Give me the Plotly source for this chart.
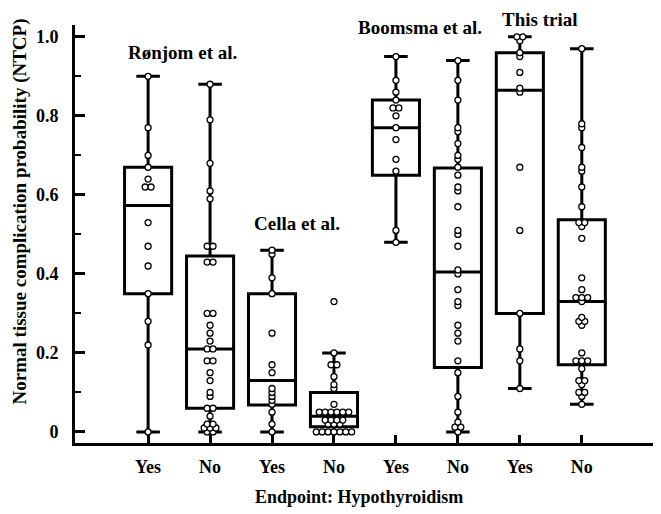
import plotly.graph_objects as go

# categories (one box per endpoint outcome)
categories = ["Yes", "No", "Yes", "No", "Yes", "No", "Yes", "No"]
groups = ["Rønjom et al.", "Cella et al.", "Boomsma et al.", "This trial"]

# box statistics
lower = [0.00, 0.00, 0.00, 0.00, 0.48, 0.00, 0.11, 0.07]
q1 = [0.35, 0.06, 0.068, 0.013, 0.65, 0.163, 0.30, 0.17]
median = [0.573, 0.21, 0.13, 0.04, 0.77, 0.405, 0.865, 0.33]
q3 = [0.67, 0.445, 0.35, 0.10, 0.84, 0.668, 0.96, 0.537]
upper = [0.90, 0.88, 0.46, 0.20, 0.95, 0.94, 1.00, 0.97]

# individual patient NTCP values
ronjom_yes = [0.90, 0.77, 0.70, 0.67, 0.64, 0.62, 0.62, 0.53, 0.47, 0.42, 0.35, 0.28, 0.22, 0.00]
ronjom_no = [0.88, 0.79, 0.68, 0.61, 0.59, 0.47, 0.47, 0.43, 0.43, 0.30, 0.30, 0.27, 0.25,
             0.23, 0.21, 0.21, 0.18, 0.18, 0.15, 0.13, 0.10, 0.09, 0.06, 0.06, 0.04, 0.02,
             0.02, 0.01, 0.01, 0.01, 0.00, 0.00]
cella_yes = [0.46, 0.45, 0.39, 0.35, 0.25, 0.17, 0.15, 0.11, 0.10, 0.09, 0.08, 0.07, 0.05, 0.02, 0.00]
cella_no = [0.33, 0.20, 0.17, 0.17, 0.14, 0.12, 0.11, 0.07, 0.05, 0.05, 0.05, 0.05, 0.05, 0.05,
            0.03, 0.03, 0.03, 0.03, 0.02, 0.02, 0.02, 0.00, 0.00, 0.00, 0.00, 0.00, 0.00, 0.00]
boomsma_yes = [0.95, 0.89, 0.86, 0.84, 0.82, 0.82, 0.80, 0.77, 0.74, 0.69, 0.66, 0.51, 0.48]
boomsma_no = [0.94, 0.89, 0.84, 0.77, 0.76, 0.73, 0.70, 0.69, 0.67, 0.65, 0.62, 0.61, 0.57,
              0.51, 0.50, 0.47, 0.41, 0.40, 0.36, 0.33, 0.32, 0.27, 0.25, 0.23, 0.18, 0.15,
              0.09, 0.05, 0.025, 0.012, 0.012, 0.00]
trial_yes = [1.00, 1.00, 0.99, 0.96, 0.95, 0.91, 0.87, 0.86, 0.67, 0.51, 0.30, 0.21, 0.18, 0.11]
trial_no = [0.97, 0.78, 0.77, 0.72, 0.67, 0.66, 0.62, 0.57, 0.53, 0.53, 0.52, 0.49, 0.39, 0.36,
            0.34, 0.34, 0.34, 0.33, 0.29, 0.28, 0.28, 0.27, 0.20, 0.18, 0.18, 0.18, 0.16, 0.13,
            0.13, 0.12, 0.10, 0.10, 0.09, 0.07]

series = [ronjom_yes, ronjom_no, cella_yes, cella_no, boomsma_yes, boomsma_no, trial_yes, trial_no]

FONT = "Liberation Serif"
positions = list(range(len(categories)))


def swarm(values, pos, step=0.095, tol=0.008):
    # spread near-equal values side by side, centred on the box
    vals = sorted(values)
    xs, ys = [], []
    i = 0
    while i < len(vals):
        j = i
        while j + 1 < len(vals) and vals[j + 1] - vals[i] <= tol:
            j += 1
        n = j - i + 1
        for k in range(n):
            xs.append(pos + (k - (n - 1) / 2) * step)
            ys.append(vals[i + k])
        i = j + 1
    return xs, ys


fig = go.Figure()
fig.add_trace(go.Box(
    x=positions, q1=q1, median=median, q3=q3,
    lowerfence=lower, upperfence=upper,
    width=0.76, whiskerwidth=0.5, boxpoints=False,
    line=dict(color="black", width=3), fillcolor="white",
    showlegend=False, hoverinfo="skip",
))

for pos, vals in zip(positions, series):
    xs, ys = swarm(vals, pos)
    fig.add_trace(go.Scatter(
        x=xs, y=ys, mode="markers", showlegend=False,
        marker=dict(size=6, color="white", line=dict(color="black", width=1.3)),
        cliponaxis=False,
    ))

bold = dict(family=FONT, size=19, color="black", weight="bold")
label_pos = [(0.56, 0.935), (2.40, 0.526), (4.39, 0.995), (6.32, 1.013)]
for name, (gx, gy) in zip(groups, label_pos):
    fig.add_annotation(x=gx, y=gy, xref="x", yref="paper", text=name,
                       xanchor="center", yanchor="middle",
                       showarrow=False, font=bold)

# axis titles placed as annotations to match the original offsets
fig.add_annotation(x=-0.095, y=0.553, xref="paper", yref="paper", textangle=-90,
                   xanchor="center", yanchor="middle",
                   text="Normal tissue complication probability (NTCP)",
                   showarrow=False, font=bold)
fig.add_annotation(x=0.487, y=-0.13, xref="paper", yref="paper",
                   xanchor="center", yanchor="middle",
                   text="Endpoint: Hypothyroidism", showarrow=False,
                   font=dict(bold, size=18))

# the page body adds an 8px margin, so the figure is 8px smaller and offsets shrink by 8
fig.update_layout(
    width=653, height=506,
    margin=dict(l=67, r=3, t=17, b=71),
    plot_bgcolor="white", paper_bgcolor="white",
    font=dict(family=FONT, size=18, color="black", weight="bold"),
)
fig.update_xaxes(
    range=[-1.18, 8.23], tickvals=positions, ticktext=categories,
    showline=True, linecolor="black", linewidth=3, showgrid=False, zeroline=False,
    ticks="inside", ticklen=8, tickwidth=3, tickcolor="black",
    ticklabelstandoff=5,
    tickfont=dict(family=FONT, size=18, weight="bold"),
)
fig.update_yaxes(
    range=[-0.028, 1.03], tickvals=[0, 0.2, 0.4, 0.6, 0.8, 1.0],
    ticktext=["0", "0.2", "0.4", "0.6", "0.8", "1.0"],
    showline=True, linecolor="black", linewidth=3, showgrid=False, zeroline=False,
    ticks="inside", ticklen=10, tickwidth=3, tickcolor="black",
    ticklabelstandoff=10,
    minor=dict(tickvals=[0.1, 0.3, 0.5, 0.7, 0.9], ticks="inside", ticklen=6,
               tickwidth=2, tickcolor="black", showgrid=False),
    tickfont=dict(family=FONT, size=18, weight="bold"),
)

fig.write_html("out.html")
